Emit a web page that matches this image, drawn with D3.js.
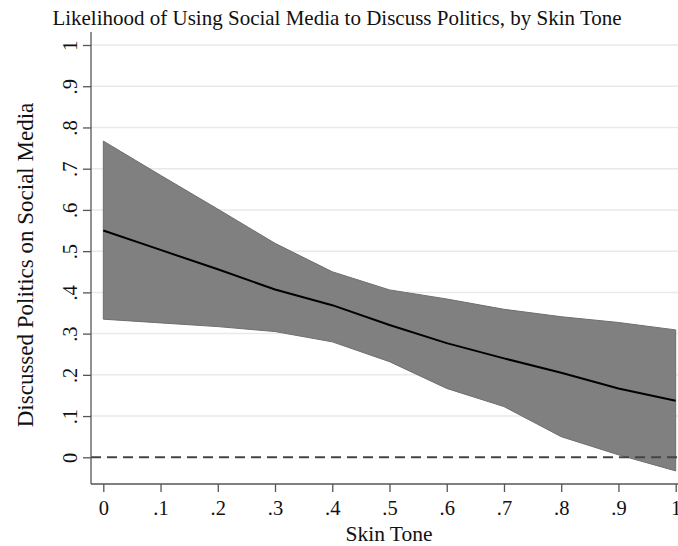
<!DOCTYPE html>
<html>
<head>
<meta charset="utf-8">
<script src="https://cdn.jsdelivr.net/npm/d3@7"></script>
<style>
  body { margin: 0; background: #fff; }
  svg { display: block; font-family: 'Liberation Serif', 'Times New Roman', serif; }
</style>
</head>
<body>
<svg width="678" height="546"></svg>
<script>
'use strict';

// predicted margins at skin tone 0, .1, ... 1
const skinTone = [0, 0.1, 0.2, 0.3, 0.4, 0.5, 0.6, 0.7, 0.8, 0.9, 1]
const predicted = [0.550, 0.503, 0.456, 0.407, 0.369, 0.321, 0.277, 0.240, 0.205, 0.167, 0.137]
const upperCI = [0.767, 0.684, 0.602, 0.519, 0.450, 0.406, 0.384, 0.359, 0.341, 0.327, 0.309]
const lowerCI = [0.335, 0.326, 0.317, 0.305, 0.280, 0.232, 0.167, 0.123, 0.050, 0.006, -0.033]
const xTicks = [0, 0.1, 0.2, 0.3, 0.4, 0.5, 0.6, 0.7, 0.8, 0.9, 1]
const yTicks = [0, 0.1, 0.2, 0.3, 0.4, 0.5, 0.6, 0.7, 0.8, 0.9, 1]

const svg = d3.select('svg')
const axisX = 91
const axisY = 484

const x = d3.scaleLinear().domain([0, 1]).range([103.3, 675.7])
const y = d3.scaleLinear().domain([0, 1]).range([457.3, 45])

const fmt = (d) => d === 0 ? '0' : d === 1 ? '1' : d3.format('.1f')(d).replace(/^0/, '')

const data = skinTone.map((s, i) => ({s: s, p: predicted[i], lo: lowerCI[i], hi: upperCI[i]}))

// title
svg.append('text')
  .attr('x', 337)
  .attr('y', 25)
  .attr('text-anchor', 'middle')
  .style('font-size', '21px')
  .style('fill', '#111')
  .text('Likelihood of Using Social Media to Discuss Politics, by Skin Tone')

// gridlines
svg.append('g').selectAll('line')
  .data(yTicks.filter((d) => d > 0))
  .enter().append('line')
  .attr('x1', axisX).attr('x2', 678)
  .attr('y1', (d) => y(d)).attr('y2', (d) => y(d))
  .style('stroke', '#e9e9e9')
  .style('stroke-width', '1.5px')

// CI band
const area = d3.area()
  .x((d) => x(d.s))
  .y0((d) => y(d.lo))
  .y1((d) => y(d.hi))
svg.append('path')
  .attr('d', area(data))
  .style('fill', '#808080')
  .style('stroke', '#6e6e6e')
  .style('stroke-width', '1px')

// zero reference
svg.append('line')
  .attr('x1', axisX).attr('x2', 678)
  .attr('y1', y(0)).attr('y2', y(0))
  .style('stroke', '#444')
  .style('stroke-width', '2px')
  .style('stroke-dasharray', '10,6')

// predicted line
const line = d3.line()
  .x((d) => x(d.s))
  .y((d) => y(d.p))
svg.append('path')
  .attr('d', line(data))
  .style('fill', 'none')
  .style('stroke', '#000')
  .style('stroke-width', '2px')

// y axis
const yAxis = d3.axisLeft(y).tickValues(yTicks).tickFormat(fmt).tickSize(8)
const gy = svg.append('g').attr('transform', 'translate(' + axisX + ',0)').call(yAxis)
gy.select('.domain').remove()
gy.append('line').attr('x1', 0).attr('x2', 0).attr('y1', 32).attr('y2', axisY)
gy.selectAll('line').style('stroke', '#555').style('stroke-width', '1.3px')
gy.selectAll('.tick text')
  .attr('x', null)
  .attr('text-anchor', 'middle')
  .attr('transform', 'translate(-21,0) rotate(-90)')
  .attr('dy', '0.35em')
  .style('font-size', '20.5px')
  .style('font-family', 'Liberation Serif')
  .style('fill', '#111')

// x axis
const xAxis = d3.axisBottom(x).tickValues(xTicks).tickFormat(fmt).tickSize(8).tickPadding(8)
const gx = svg.append('g').attr('transform', 'translate(0,' + axisY + ')').call(xAxis)
gx.select('.domain').remove()
gx.append('line').attr('x1', axisX).attr('x2', 678).attr('y1', 0).attr('y2', 0)
gx.selectAll('line').style('stroke', '#555').style('stroke-width', '1.3px')
gx.selectAll('.tick text')
  .style('font-size', '20.5px')
  .style('font-family', 'Liberation Serif')
  .style('fill', '#111')

// axis titles
svg.append('text')
  .attr('x', 389)
  .attr('y', 541)
  .attr('text-anchor', 'middle')
  .style('font-size', '21.5px')
  .style('fill', '#111')
  .text('Skin Tone')

svg.append('text')
  .attr('transform', 'translate(33,265) rotate(-90)')
  .attr('text-anchor', 'middle')
  .style('font-size', '23px')
  .style('fill', '#111')
  .text('Discussed Politics on Social Media')
</script>
</body>
</html>
